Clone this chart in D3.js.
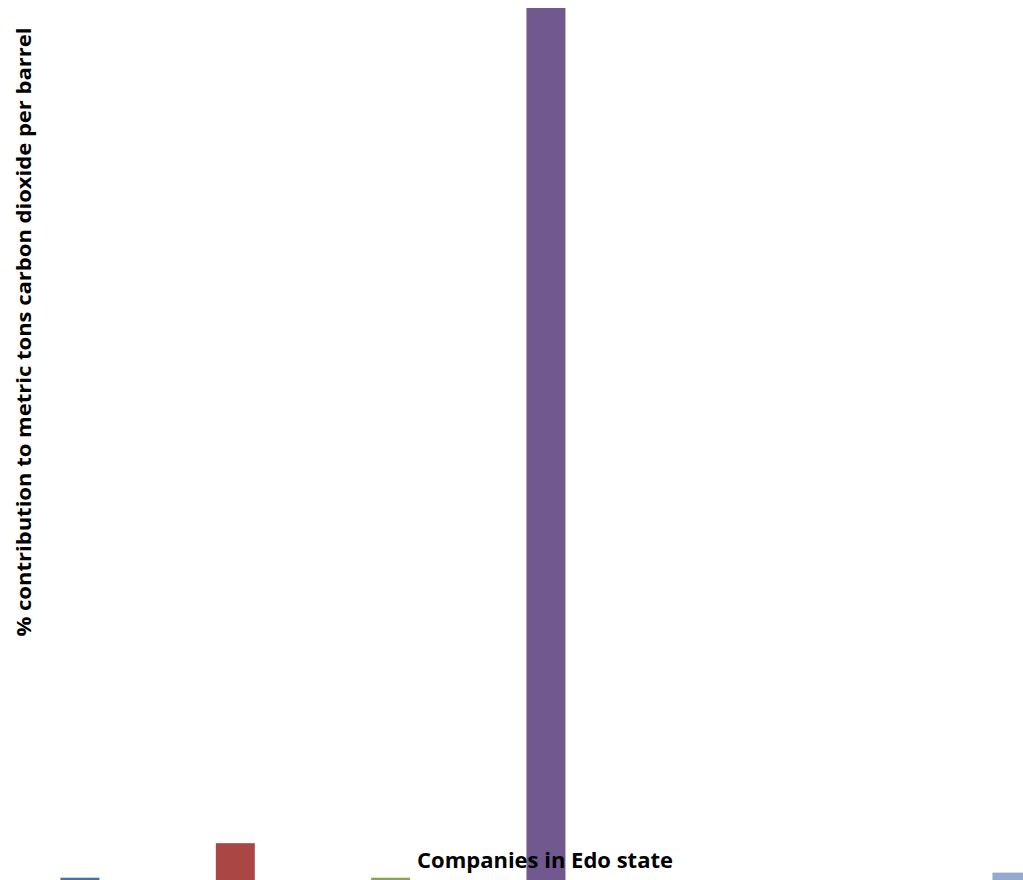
<!DOCTYPE html>
<html>
<head>
<meta charset="utf-8">
<script src="https://cdn.jsdelivr.net/npm/d3@7"></script>
<style>
  html, body { margin: 0; padding: 0; background: #fff; overflow: hidden; }
  svg { display: block; }
</style>
</head>
<body>
<svg id="chart" width="1023" height="880"></svg>
<script>
// Data (category names are cropped out of the reference)
const categories = ["Company 1", "Company 2", "Company 3", "Company 4", "Company 5", "Company 6", "Company 7"];
const values = [0.25, 4.0, 0.25, 94.7, 0, 0, 0.8];
const colors = ["#4572A7", "#AA4643", "#89A54E", "#71588F", "#4198AF", "#DB843D", "#93A9CF"];
const xTitle = "Companies in Edo state";
const yTitle = "% contribution to metric tons carbon dioxide per barrel";

const svg = d3.select("#chart");
const baseY = 880;
const left = 2.3, step = 155.33;

const x = d3.scaleBand()
  .domain(categories)
  .range([left, left + step * categories.length])
  .paddingInner(0.749)
  .paddingOuter(0.3745);

const y = d3.scaleLinear()
  .domain([0, 100])
  .range([baseY, baseY - 920.8]);

svg.append("g").selectAll("rect")
  .data(categories.map((c, i) => ({c, v: values[i], col: colors[i]})))
  .join("rect")
  .attr("x", d => x(d.c))
  .attr("y", d => y(d.v))
  .attr("width", x.bandwidth())
  .attr("height", d => y(0) - y(d.v))
  .attr("fill", d => d.col);

svg.append("text")
  .attr("x", 545)
  .attr("y", 868)
  .attr("text-anchor", "middle")
  .attr("font-family", "'Open Sans', 'Liberation Sans', sans-serif")
  .attr("font-weight", "bold")
  .attr("font-size", 21)
  .attr("textLength", 256)
  .attr("lengthAdjust", "spacingAndGlyphs")
  .attr("fill", "#000")
  .text(xTitle);

svg.append("text")
  .attr("transform", "translate(31,332) rotate(-90)")
  .attr("text-anchor", "middle")
  .attr("font-family", "'Open Sans', 'Liberation Sans', sans-serif")
  .attr("font-weight", "bold")
  .attr("font-size", 20)
  .attr("textLength", 609)
  .attr("lengthAdjust", "spacingAndGlyphs")
  .attr("fill", "#000")
  .text(yTitle);
</script>
</body>
</html>
